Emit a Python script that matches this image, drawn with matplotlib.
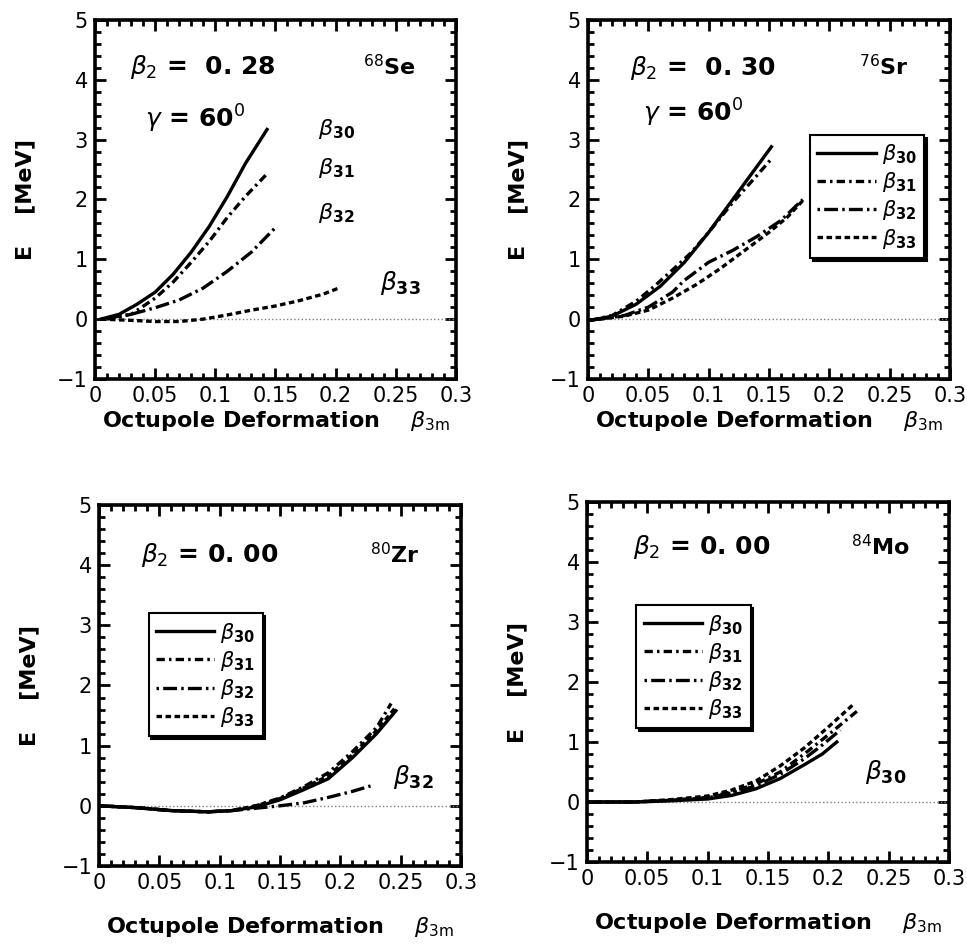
import matplotlib
matplotlib.use("Agg")
import matplotlib.pyplot as plt
from matplotlib.ticker import MultipleLocator

plt.rcParams['font.family'] = ['DejaVu Sans']
plt.rcParams['mathtext.fontset'] = 'dejavusans'
plt.rcParams['lines.scale_dashes'] = False

# --- data ---
# 68Se, beta2 = 0.28, gamma = 60
se_x30 = [0.005, 0.02, 0.035, 0.05, 0.065, 0.08, 0.095, 0.11, 0.125, 0.143]
se_y30 = [0.0, 0.08, 0.25, 0.45, 0.75, 1.12, 1.55, 2.05, 2.6, 3.17]
se_x31 = [0.01, 0.03, 0.05, 0.065, 0.08, 0.095, 0.11, 0.125, 0.144]
se_y31 = [0.0, 0.08, 0.35, 0.62, 0.95, 1.3, 1.7, 2.05, 2.45]
se_x32 = [0.005, 0.03, 0.05, 0.07, 0.09, 0.11, 0.13, 0.15]
se_y32 = [0.0, 0.08, 0.19, 0.32, 0.52, 0.8, 1.12, 1.53]
se_x33 = [0.005, 0.03, 0.05, 0.07, 0.09, 0.11, 0.13, 0.15, 0.17, 0.19, 0.204]
se_y33 = [0.0, -0.02, -0.04, -0.04, 0.0, 0.07, 0.15, 0.22, 0.31, 0.42, 0.53]

# 76Sr, beta2 = 0.30, gamma = 60
sr_x30 = [0.002, 0.02, 0.04, 0.06, 0.08, 0.1, 0.12, 0.14, 0.152]
sr_y30 = [-0.02, 0.05, 0.25, 0.55, 0.95, 1.45, 2.0, 2.55, 2.88]
sr_x31 = [0.002, 0.02, 0.04, 0.055, 0.07, 0.085, 0.1, 0.12, 0.14, 0.153]
sr_y31 = [-0.02, 0.06, 0.3, 0.55, 0.82, 1.1, 1.45, 1.95, 2.4, 2.7]
sr_x32 = [0.002, 0.03, 0.05, 0.07, 0.08, 0.1, 0.12, 0.14, 0.16, 0.178]
sr_y32 = [-0.02, 0.06, 0.2, 0.45, 0.65, 0.95, 1.15, 1.38, 1.65, 2.0]
sr_x33 = [0.002, 0.03, 0.05, 0.07, 0.09, 0.11, 0.13, 0.15, 0.165, 0.178]
sr_y33 = [-0.02, 0.05, 0.15, 0.35, 0.58, 0.85, 1.15, 1.45, 1.7, 1.98]

# 80Zr, beta2 = 0.00
zr_x30 = [0.0, 0.03, 0.06, 0.09, 0.11, 0.13, 0.15, 0.17, 0.19, 0.21, 0.23, 0.246]
zr_y30 = [0.0, -0.03, -0.08, -0.1, -0.08, -0.02, 0.1, 0.27, 0.45, 0.8, 1.2, 1.58]
zr_x31 = [0.0, 0.03, 0.06, 0.09, 0.11, 0.13, 0.15, 0.17, 0.19, 0.21, 0.23, 0.242]
zr_y31 = [0.0, -0.03, -0.08, -0.1, -0.08, 0.0, 0.13, 0.32, 0.55, 0.9, 1.3, 1.7]
zr_x32 = [0.0, 0.03, 0.06, 0.09, 0.11, 0.13, 0.15, 0.17, 0.19, 0.21, 0.225]
zr_y32 = [0.0, -0.03, -0.08, -0.1, -0.08, -0.04, 0.0, 0.05, 0.14, 0.24, 0.33]
zr_x33 = [0.0, 0.03, 0.06, 0.09, 0.11, 0.13, 0.15, 0.17, 0.19, 0.21, 0.23, 0.245]
zr_y33 = [0.0, -0.03, -0.08, -0.1, -0.08, 0.0, 0.12, 0.3, 0.5, 0.85, 1.25, 1.62]

# 84Mo, beta2 = 0.00
mo_x30 = [0.0, 0.04, 0.07, 0.1, 0.12, 0.14, 0.16, 0.18, 0.195, 0.207]
mo_y30 = [0.0, 0.0, 0.02, 0.05, 0.11, 0.22, 0.39, 0.62, 0.8, 1.0]
mo_x31 = [0.0, 0.04, 0.07, 0.1, 0.12, 0.14, 0.16, 0.18, 0.2, 0.226]
mo_y31 = [0.0, 0.0, 0.03, 0.08, 0.17, 0.3, 0.5, 0.8, 1.12, 1.55]
mo_x32 = [0.0, 0.04, 0.07, 0.1, 0.12, 0.14, 0.16, 0.18, 0.195, 0.21]
mo_y32 = [0.0, 0.0, 0.03, 0.07, 0.15, 0.27, 0.46, 0.72, 0.95, 1.2]
mo_x33 = [0.0, 0.04, 0.07, 0.1, 0.12, 0.14, 0.16, 0.18, 0.2, 0.222]
mo_y33 = [0.0, 0.0, 0.04, 0.1, 0.2, 0.35, 0.6, 0.9, 1.25, 1.65]

series_names = [r'$\beta_{\mathbf{30}}$', r'$\beta_{\mathbf{31}}$',
                r'$\beta_{\mathbf{32}}$', r'$\beta_{\mathbf{33}}$']
xticks = [0, 0.05, 0.1, 0.15, 0.2, 0.25, 0.3]
xticklabels = ['0', '0.05', '0.1', '0.15', '0.2', '0.25', '0.3']
yticks = [-1, 0, 1, 2, 3, 4, 5]
yticklabels = ['\u22121', '0', '1', '2', '3', '4', '5']

styles = ['-', (0, (6, 3, 1.8, 3)), (0, (1.8, 3, 10, 3)), (0, (4, 2.5))]

fig = plt.figure(figsize=(9.67, 9.46), dpi=100)
boxes = [[0.0982, 0.5994, 0.3733, 0.3795],
         [0.608, 0.5994, 0.3744, 0.3795],
         [0.1024, 0.0846, 0.3744, 0.3816],
         [0.607, 0.0888, 0.3744, 0.3805]]

panels = [
    (se_x30, se_y30, se_x31, se_y31, se_x32, se_y32, se_x33, se_y33),
    (sr_x30, sr_y30, sr_x31, sr_y31, sr_x32, sr_y32, sr_x33, sr_y33),
    (zr_x30, zr_y30, zr_x31, zr_y31, zr_x32, zr_y32, zr_x33, zr_y33),
    (mo_x30, mo_y30, mo_x31, mo_y31, mo_x32, mo_y32, mo_x33, mo_y33),
]

axes = []
for i, box in enumerate(boxes):
    ax = fig.add_axes(box)
    axes.append(ax)
    d = panels[i]
    ax.axhline(0, color='gray', lw=1, ls=':')
    for k in range(4):
        ax.plot(d[2 * k], d[2 * k + 1], color='black', lw=2.4, ls=styles[k],
                label=series_names[k])
    ax.set_xlim(0, 0.3)
    ax.set_ylim(-1, 5)
    ax.set_xticks(xticks)
    ax.set_xticklabels(xticklabels)
    ax.set_yticks(yticks)
    ax.set_yticklabels(yticklabels)
    ax.xaxis.set_minor_locator(MultipleLocator(0.01))
    ax.yaxis.set_minor_locator(MultipleLocator(0.2))
    ax.tick_params(which='both', direction='in', top=True, right=True,
                   width=2, labelsize=15, pad=5)
    ax.tick_params(which='major', length=8)
    ax.tick_params(which='minor', length=4)
    for s in ax.spines.values():
        s.set_linewidth(2.6)
    ax.set_xlabel(r'Octupole Deformation    $\beta_{\mathrm{3m}}$',
                  fontsize=16, fontweight='bold',
                  labelpad=2 if i < 2 else 16)
    ax.set_ylabel('E    [MeV]', fontsize=16, fontweight='bold', labelpad=16)

shadow = {'color': 'black', 'alpha': 1}
leg_pos = {1: (0.184, 3.08), 2: (0.041, 3.2), 3: (0.041, 3.28)}
for i, pos in leg_pos.items():
    ax = axes[i]
    lg = ax.legend(loc='upper left', bbox_to_anchor=pos,
                   bbox_transform=ax.transData, borderaxespad=0,
                   fontsize=15, frameon=True, fancybox=False, shadow=shadow,
                   framealpha=1, edgecolor='black', handlelength=2.8,
                   labelspacing=0.2, handletextpad=0.3, borderpad=0.35)
    lg.get_frame().set_linewidth(1.5)

tk = dict(fontsize=18, fontweight='bold', ha='center', va='center')
iso = dict(fontsize=16, fontweight='bold', ha='center', va='center')
ax = axes[0]
ax.text(0.09, 4.22, r'$\beta_{2}$ =  0. 28', **tk)
ax.text(0.083, 3.35, r'$\gamma$ = 60$^{0}$', **tk)
ax.text(0.245, 4.22, r'$^{68}$Se', **iso)
ax.text(0.185, 3.17, r'$\beta_{\mathbf{30}}$', fontsize=16, ha='left', va='center')
ax.text(0.185, 2.52, r'$\beta_{\mathbf{31}}$', fontsize=16, ha='left', va='center')
ax.text(0.185, 1.77, r'$\beta_{\mathbf{32}}$', fontsize=16, ha='left', va='center')
ax.text(0.237, 0.6, r'$\beta_{\mathbf{33}}$', fontsize=18, ha='left', va='center')

ax = axes[1]
ax.text(0.095, 4.2, r'$\beta_{2}$ =  0. 30', **tk)
ax.text(0.087, 3.45, r'$\gamma$ = 60$^{0}$', **tk)
ax.text(0.245, 4.22, r'$^{76}$Sr', **iso)

ax = axes[2]
ax.text(0.092, 4.17, r'$\beta_{2}$ = 0. 00', **tk)
ax.text(0.245, 4.17, r'$^{80}$Zr', **iso)
ax.text(0.244, 0.48, r'$\beta_{\mathbf{32}}$', fontsize=18, ha='left', va='center')

ax = axes[3]
ax.text(0.095, 4.25, r'$\beta_{2}$ = 0. 00', **tk)
ax.text(0.243, 4.25, r'$^{84}$Mo', **iso)
ax.text(0.23, 0.5, r'$\beta_{\mathbf{30}}$', fontsize=18, ha='left', va='center')

fig.savefig('out.png', dpi=100)
